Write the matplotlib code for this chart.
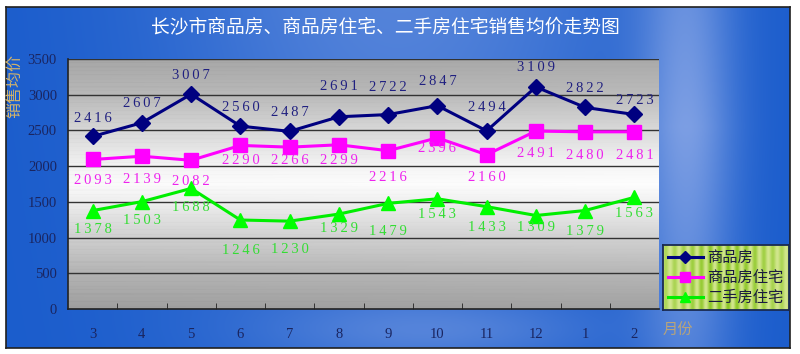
import numpy as np
import matplotlib.pyplot as plt

plt.rcParams['font.family'] = ['Noto Sans CJK SC', 'DejaVu Sans']

months = ['3', '4', '5', '6', '7', '8', '9', '10', '11', '12', '1', '2']
spf = [2416, 2607, 3007, 2560, 2487, 2691, 2722, 2847, 2494, 3109, 2822, 2723]
spf_zz = [2093, 2139, 2082, 2290, 2266, 2299, 2216, 2396, 2160, 2491, 2480, 2481]
esf_zz = [1378, 1503, 1688, 1246, 1230, 1329, 1479, 1543, 1433, 1309, 1379, 1563]

# label offsets in pixels (positive = up)
off_spf = [18, 19, 19, 19, 19, 30, 27, 24, 23, 19, 19, 14]
off_zz = [-21, -23, -21, -15, -13, -16, -27, -11, -23, -22, -24, -24]
off_esf = [-19, -19, -19, -31, -28, -14, -28, -16, -21, -12, -21, -16]

serif = ['Liberation Serif', 'DejaVu Serif']

W, H = 800, 354
fig = plt.figure(figsize=(8, 3.54), dpi=100)
fig.patch.set_facecolor('white')

# blue background frame
bg = fig.add_axes([6/W, 6/H, 784/W, 341/H])
xx = np.linspace(0, 1, 400)
yy = np.linspace(0, 1, 200)
X, Y = np.meshgrid(xx, yy)
dark = np.array([0.10, 0.36, 0.80])
light = np.array([0.56, 0.67, 0.91])
t = 0.5 * np.exp(-((X - 0.5) / 0.3) ** 2) * (0.5 + 0.5 * (1 - Y))
t += 0.75 * np.exp(-((X - 0.87) / 0.06) ** 2) * (0.3 + 0.7 * (1 - np.abs(Y - 0.35)))
t += 0.25 * np.exp(-((X - 0.55) / 0.2) ** 2) * np.exp(-((Y - 0.95) / 0.08) ** 2)
t = np.clip(t, 0, 1)
img = dark[None, None, :] * (1 - t[..., None]) + light[None, None, :] * t[..., None]
bg.imshow(img, aspect='auto', extent=[0, 1, 0, 1], origin='upper')
bg.set_xticks([])
bg.set_yticks([])
for s in bg.spines.values():
    s.set_color('#202020')
    s.set_linewidth(1.2)

# plot area
ax = fig.add_axes([68/W, 1 - 309/H, 591/W, 250/H])
yv = np.linspace(0, 3500, 700)
g = np.interp(yv, [0, 500, 1000, 1500, 1750, 2000, 2500, 3000, 3500],
              [0.64, 0.72, 0.83, 0.95, 1.0, 0.97, 0.86, 0.74, 0.67])
stripe = 0.05 * (np.sin(yv / 3500 * 700 * 2 * np.pi / 3.3) > 0.3)
xs = np.linspace(0, 1, 300)
G = g[:, None] - stripe[:, None] * (1 - 0.7 * xs[None, :])
G = np.clip(G, 0, 1)
ax.imshow(np.dstack([G, G, G]), aspect='auto', extent=[-0.5, 11.5, 0, 3500],
          origin='lower', zorder=0)
ax.set_xlim(-0.5, 11.5)
ax.set_ylim(0, 3500)
for yg in range(500, 3501, 500):
    ax.axhline(yg, color='#333333', lw=1, zorder=1)

x = np.arange(len(months))
ax.plot(x, spf, color='#000080', lw=2.2, marker='D', ms=8, zorder=3)
ax.plot(x, spf_zz, color='#ff00ff', lw=2.2, marker='s', ms=10, zorder=3)
ax.plot(x, esf_zz, color='#00ee00', lw=2.2, marker='^', ms=10, zorder=3,
        markerfacecolor='#00ff00', markeredgecolor='#00ff00')

def fmt(v):
    return '\u2009'.join(str(v))

for vals, offs, col in [(spf, off_spf, '#202080'), (spf_zz, off_zz, '#ee22ee'),
                        (esf_zz, off_esf, '#33dd33')]:
    for xi, v, o in zip(x, vals, offs):
        ax.annotate(fmt(v), (xi, v), xytext=(0, o), textcoords='offset pixels',
                    ha='center', va='center', color=col, fontsize=10.5,
                    family=serif, zorder=4)

ax.set_yticks(range(0, 3501, 500))
ax.set_yticklabels([str(v) for v in range(0, 3501, 500)],
                   family=serif, fontsize=10.5, color='#1a2560')
ax.tick_params(axis='y', length=0, pad=8)
ax.set_xticks(x)
ax.set_xticklabels(months, family=serif, fontsize=10.5, color='#1a2560')
ax.tick_params(axis='x', length=0, pad=14)
ax.set_xticks(np.arange(0.5, 11.5, 1), minor=True)
ax.tick_params(axis='x', which='minor', direction='in', length=4, color='#222222')
for s in ['top', 'right']:
    ax.spines[s].set_visible(False)
ax.spines['left'].set_color('#222222')
ax.spines['bottom'].set_color('#222222')
ax.spines['left'].set_linewidth(1.2)
ax.spines['bottom'].set_linewidth(1.2)

fig.text(385/W, 1 - 28/H, '长沙市商品房、商品房住宅、二手房住宅销售均价走势图',
         ha='center', va='center', color='white', fontsize=13.5)
fig.text(15/W, 1 - 86/H, '销售均价', rotation=90, ha='center', va='center',
         color='#d4b46a', fontsize=11.5)
fig.text(678/W, 1 - 330/H, '月份', ha='center', va='center',
         color='#b8a47a', fontsize=11)

# legend box
lg = fig.add_axes([663/W, 1 - 310/H, 126/W, 65/H])
cols = np.linspace(0, 1, 126)
sv = 0.5 + 0.5 * np.sin(cols * 2 * np.pi * 14)
env = np.exp(-((cols - 0.5) / 0.35) ** 2)
c1 = np.array([0.82, 0.90, 0.55])
c2 = np.array([0.55, 0.78, 0.15])
k = np.clip(sv * (0.4 + 0.6 * env), 0, 1)
row = c1[None, :] * (1 - k[:, None]) + c2[None, :] * k[:, None]
lg.imshow(np.repeat(row[None, :, :], 10, axis=0), aspect='auto', extent=[0, 1, 0, 1])
lg.set_xticks([])
lg.set_yticks([])
for s in lg.spines.values():
    s.set_color('#1a2a50')
    s.set_linewidth(1.3)
h1, = lg.plot([], [], color='#000080', lw=2.2, marker='D', ms=6)
h2, = lg.plot([], [], color='#ff00ff', lw=2.2, marker='s', ms=7)
h3, = lg.plot([], [], color='#00ee00', lw=2.2, marker='^', ms=7,
              markerfacecolor='#00ff00', markeredgecolor='#00ff00')
lg.legend([h1, h2, h3], ['商品房', '商品房住宅', '二手房住宅'], loc='center left',
          frameon=False, fontsize=11, handlelength=2.3, handletextpad=0.3,
          labelspacing=0.2, borderaxespad=0.1, borderpad=0.2, labelcolor='#1a1a40')

fig.savefig('out.png', dpi=100)
